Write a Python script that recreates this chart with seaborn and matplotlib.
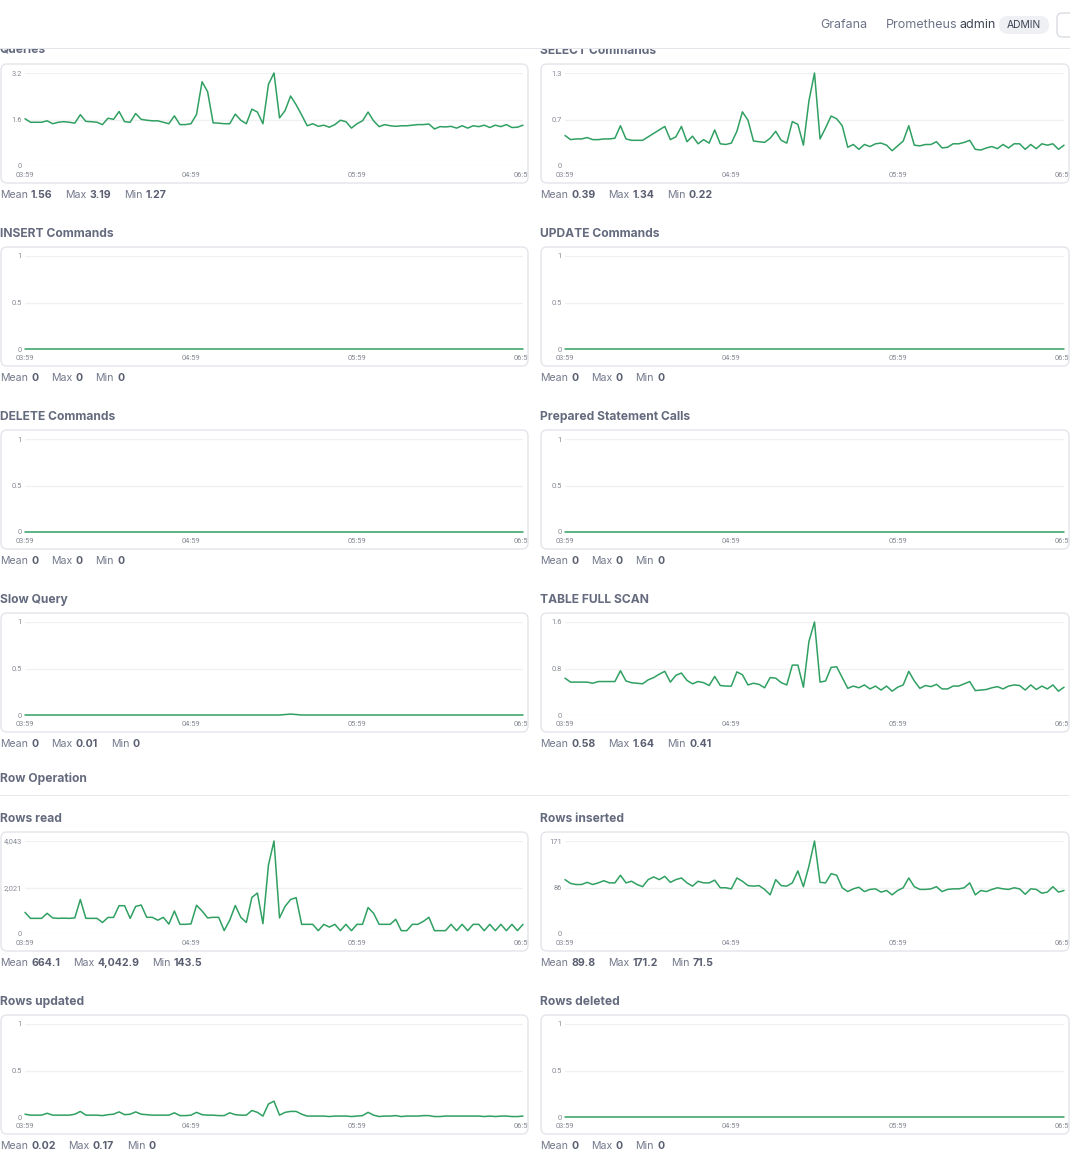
import numpy as np
import pandas as pd
import matplotlib
matplotlib.use("Agg")
import matplotlib.pyplot as plt
import matplotlib.transforms as mtransforms
from matplotlib.patches import FancyBboxPatch, Rectangle
from matplotlib import font_manager
import seaborn as sns

# ------------------------------------------------------------------ data
minutes = list(range(0, 181, 2))          # 03:59 -> 06:59, 2-minute steps
time_tick_minutes = [0, 60, 120, 180]
time_tick_labels = ["03:59", "04:59", "05:59", "06:59"]

queries = [1.62, 1.50, 1.50, 1.50, 1.55, 1.45, 1.50, 1.52, 1.50, 1.47,
           1.76, 1.53, 1.52, 1.50, 1.42, 1.64, 1.60, 1.87, 1.52, 1.50,
           1.80, 1.60, 1.57, 1.55, 1.55, 1.50, 1.45, 1.72, 1.42, 1.42,
           1.45, 1.77, 2.89, 2.55, 1.48, 1.47, 1.45, 1.45, 1.78, 1.57,
           1.45, 1.95, 1.85, 1.45, 2.80, 3.19, 1.65, 1.90, 2.40, 2.10,
           1.75, 1.38, 1.45, 1.36, 1.40, 1.33, 1.42, 1.57, 1.52, 1.30,
           1.45, 1.55, 1.85, 1.55, 1.35, 1.42, 1.38, 1.36, 1.38, 1.38,
           1.40, 1.42, 1.42, 1.44, 1.27, 1.35, 1.34, 1.36, 1.30, 1.38,
           1.30, 1.38, 1.35, 1.40, 1.32, 1.40, 1.35, 1.42, 1.32, 1.33, 1.40]

select_cmds = [0.44, 0.38, 0.39, 0.39, 0.41, 0.38, 0.38, 0.39, 0.39, 0.40,
               0.58, 0.39, 0.37, 0.37, 0.37, 0.42, 0.47, 0.52, 0.57, 0.38,
               0.42, 0.57, 0.35, 0.43, 0.32, 0.38, 0.33, 0.52, 0.32, 0.31,
               0.33, 0.50, 0.78, 0.66, 0.36, 0.35, 0.34, 0.40, 0.50, 0.37,
               0.33, 0.64, 0.60, 0.30, 0.94, 1.34, 0.39, 0.55, 0.72, 0.68,
               0.58, 0.27, 0.31, 0.24, 0.31, 0.28, 0.32, 0.33, 0.30, 0.22,
               0.29, 0.36, 0.58, 0.30, 0.29, 0.31, 0.31, 0.35, 0.26, 0.27,
               0.32, 0.32, 0.34, 0.37, 0.24, 0.23, 0.26, 0.28, 0.25, 0.31,
               0.26, 0.32, 0.32, 0.24, 0.31, 0.25, 0.32, 0.30, 0.32, 0.24, 0.30]

table_full_scan = [0.65, 0.58, 0.58, 0.58, 0.58, 0.56, 0.59, 0.59, 0.59, 0.59,
                   0.78, 0.60, 0.57, 0.56, 0.55, 0.62, 0.66, 0.72, 0.77, 0.58,
                   0.70, 0.74, 0.61, 0.55, 0.59, 0.57, 0.52, 0.68, 0.52, 0.51,
                   0.51, 0.76, 0.71, 0.53, 0.56, 0.54, 0.48, 0.66, 0.65, 0.57,
                   0.53, 0.88, 0.88, 0.49, 1.30, 1.64, 0.58, 0.60, 0.84, 0.85,
                   0.66, 0.47, 0.51, 0.48, 0.53, 0.46, 0.51, 0.44, 0.51, 0.42,
                   0.49, 0.53, 0.77, 0.60, 0.47, 0.52, 0.50, 0.54, 0.46, 0.46,
                   0.51, 0.51, 0.55, 0.59, 0.43, 0.44, 0.45, 0.48, 0.50, 0.46,
                   0.51, 0.53, 0.52, 0.44, 0.53, 0.45, 0.51, 0.46, 0.53, 0.42, 0.49]

rows_read = [940, 680, 680, 680, 900, 700, 680, 690, 680, 700,
             1500, 680, 680, 680, 500, 720, 720, 1230, 1230, 680,
             1200, 1260, 725, 725, 600, 725, 430, 1000, 420, 420,
             440, 1250, 1000, 700, 725, 725, 150, 600, 1240, 725,
             500, 1590, 1780, 450, 3000, 4043, 700, 1200, 1500, 1580,
             420, 420, 420, 145, 420, 300, 420, 145, 420, 145,
             420, 420, 1150, 900, 420, 420, 420, 640, 145, 145,
             420, 420, 550, 725, 145, 145, 145, 420, 145, 420,
             145, 420, 420, 145, 420, 145, 420, 145, 420, 145, 420]

rows_inserted = [100, 93, 91, 91, 95, 91, 94, 98, 94, 94,
                 108, 94, 97, 91, 87, 100, 105, 100, 106, 95,
                 100, 103, 94, 88, 97, 94, 94, 99, 85, 85,
                 83, 103, 97, 89, 88, 89, 82, 72, 100, 89,
                 88, 94, 116, 87, 125, 171, 95, 94, 111, 108,
                 85, 78, 83, 86, 78, 82, 83, 77, 80, 72,
                 80, 85, 103, 87, 82, 82, 83, 87, 78, 82,
                 83, 83, 85, 94, 72, 80, 78, 82, 85, 83,
                 82, 85, 83, 73, 83, 82, 75, 77, 87, 77, 80]

rows_updated = [0.03, 0.02, 0.02, 0.02, 0.04, 0.02, 0.02, 0.02, 0.02, 0.03,
                0.06, 0.02, 0.02, 0.02, 0.015, 0.025, 0.03, 0.055, 0.025, 0.03,
                0.055, 0.03, 0.025, 0.02, 0.02, 0.02, 0.02, 0.045, 0.015, 0.015,
                0.02, 0.05, 0.025, 0.02, 0.02, 0.015, 0.015, 0.045, 0.025, 0.02,
                0.02, 0.07, 0.05, 0.01, 0.14, 0.17, 0.02, 0.05, 0.06, 0.06,
                0.03, 0.01, 0.01, 0.01, 0.01, 0.005, 0.01, 0.01, 0.01, 0.005,
                0.01, 0.015, 0.05, 0.02, 0.005, 0.01, 0.01, 0.015, 0.005, 0.01,
                0.01, 0.01, 0.015, 0.015, 0.005, 0.005, 0.01, 0.01, 0.01, 0.01,
                0.01, 0.01, 0.01, 0.005, 0.01, 0.005, 0.01, 0.01, 0.005, 0.005, 0.01]

slow_query = [0] * 47 + [0.005, 0.01, 0.005] + [0] * 41
insert_cmds = [0] * 91
update_cmds = [0] * 91
delete_cmds = [0] * 91
prepared_calls = [0] * 91
rows_deleted = [0] * 91

panel_titles = ["Queries", "SELECT Commands", "INSERT Commands", "UPDATE Commands",
                "DELETE Commands", "Prepared Statement Calls", "Slow Query",
                "TABLE FULL SCAN", "Rows read", "Rows inserted", "Rows updated",
                "Rows deleted"]
panel_series = [queries, select_cmds, insert_cmds, update_cmds, delete_cmds,
                prepared_calls, slow_query, table_full_scan, rows_read,
                rows_inserted, rows_updated, rows_deleted]
panel_ytick_labels = [["0", "1.6", "3.2"], ["0", "0.7", "1.3"],
                      ["0", "0.5", "1"], ["0", "0.5", "1"],
                      ["0", "0.5", "1"], ["0", "0.5", "1"],
                      ["0", "0.5", "1"], ["0", "0.8", "1.6"],
                      ["0", "2,021", "4,043"], ["0", "86", "171"],
                      ["0", "0.5", "1"], ["0", "0.5", "1"]]
panel_stats = [("1.56", "3.19", "1.27"), ("0.39", "1.34", "0.22"),
               ("0", "0", "0"), ("0", "0", "0"),
               ("0", "0", "0"), ("0", "0", "0"),
               ("0", "0.01", "0"), ("0.58", "1.64", "0.41"),
               ("664.1", "4,042.9", "143.5"), ("89.8", "171.2", "71.5"),
               ("0.02", "0.17", "0"), ("0", "0", "0")]
stat_names = ["Mean", "Max", "Min"]
section_title = "Row Operation"
header_items = ["Grafana", "Prometheus", "admin", "ADMIN"]

# ------------------------------------------------------------------ style
sns.set_theme(style="white")
plt.rcParams["font.family"] = ["Inter", "DejaVu Sans"]

installed = {f.name for f in font_manager.fontManager.ttflist}
if "Liberation Sans Narrow" in installed:
    TICK_FAMILY, TICK_SIZE = ["Liberation Sans Narrow", "DejaVu Sans"], 6.0
else:
    TICK_FAMILY, TICK_SIZE = ["Roboto", "DejaVu Sans"], 5.4

W, H = 1070, 1154
fig = plt.figure(figsize=(W / 100, H / 100), dpi=100)
fig.patch.set_facecolor("white")
renderer = fig.canvas.get_renderer()
# pixel coordinates, y pointing down
PX = mtransforms.Affine2D().scale(1 / W, -1 / H).translate(0, 1) + fig.transFigure

GREEN = "#30a062"
TITLE_C = "#656b7e"
LABEL_C = "#74798b"
VALUE_C = "#5a5f71"
TICK_C = "#858993"
BORDER_C = "#e3e5ea"
GRID_C = "#f0f1f3"

BOX_TOPS = [64, 247, 430, 613, 832, 1015]
BOX_H = 119
COLS = [(1, 528), (541, 1069)]


def put_text(x, y, s, **kw):
    kw.setdefault("va", "center")
    return fig.text(x, y, s, transform=PX, **kw)


def text_width(t):
    return t.get_window_extent(renderer).width


for i, (title, series) in enumerate(zip(panel_titles, panel_series)):
    row, col = divmod(i, 2)
    x0, x1 = COLS[col]
    top = BOX_TOPS[row]
    bot = top + BOX_H

    # panel frame
    box = FancyBboxPatch((x0, top), x1 - x0, BOX_H,
                         boxstyle="round,pad=0,rounding_size=6",
                         transform=PX, facecolor="white", edgecolor=BORDER_C,
                         linewidth=1.0, zorder=0.5)
    fig.patches.append(box)

    # title
    put_text(x0 - 1, top - 13, title, fontsize=8.7, fontweight="bold",
             color=TITLE_C, zorder=3)

    # plot area
    px0, px1 = x0 + 24, x1 - 5
    py0, py1 = top + 9, bot - 17
    ax = fig.add_axes([px0 / W, 1 - py1 / H, (px1 - px0) / W, (py1 - py0) / H])
    ax.set_zorder(2)
    ax.set_facecolor("none")
    df = pd.DataFrame({"minute": minutes, "value": series})
    sns.lineplot(data=df, x="minute", y="value", ax=ax, color=GREEN,
                 linewidth=1.1)
    for ln in ax.lines:
        ln.set_clip_on(False)
        ln.set_solid_joinstyle("round")
    ymax = max(max(series), 1)
    ax.set_xlim(0, 180)
    ax.set_ylim(0, ymax)
    ax.set_xlabel("")
    ax.set_ylabel("")
    for sp in ax.spines.values():
        sp.set_visible(False)
    ax.set_yticks([0, ymax / 2, ymax], panel_ytick_labels[i])
    ax.set_xticks(time_tick_minutes, time_tick_labels)
    ax.yaxis.grid(True, color=GRID_C, linewidth=1)
    ax.xaxis.grid(False)
    ax.set_axisbelow(True)
    ax.tick_params(axis="both", length=0, labelsize=TICK_SIZE, labelcolor=TICK_C)
    ax.tick_params(axis="y", pad=2.2)
    ax.tick_params(axis="x", pad=4.0)
    for lab in ax.get_xticklabels() + ax.get_yticklabels():
        lab.set_fontfamily(TICK_FAMILY)
    clip = mtransforms.TransformedBbox(
        mtransforms.Bbox.from_extents(x0 / W, 1 - bot / H, x1 / W, 1 - top / H),
        fig.transFigure)
    for lab in ax.get_xticklabels():
        lab.set_clip_on(True)
        lab.set_clip_box(clip)

    # stats line
    sx = x0 - 1
    sy = bot + 12
    for name, val in zip(stat_names, panel_stats[i]):
        t = put_text(sx, sy, name, fontsize=7.6, color=LABEL_C)
        sx += text_width(t) + 3
        t = put_text(sx, sy, val, fontsize=7.6, fontweight="bold", color=VALUE_C)
        sx += text_width(t) + 13

# section header
put_text(0, 779, section_title, fontsize=8.7, fontweight="bold", color=TITLE_C)
fig.add_artist(Rectangle((0, 794.5), W, 1.5, transform=PX, facecolor="#e8e9ed",
                         edgecolor="none", zorder=2))

# top navigation bar (covers the first row titles)
fig.add_artist(Rectangle((0, 0), W, 48, transform=PX, facecolor="white",
                         edgecolor="none", zorder=10))
fig.add_artist(Rectangle((0, 48), W, 1, transform=PX, facecolor="#e3e5ea",
                         edgecolor="none", zorder=10))
put_text(820, 24.5, header_items[0], fontsize=9.0, color="#6e7387", zorder=11)
put_text(886, 24.5, header_items[1], fontsize=9.0, color="#6e7387", zorder=11)
put_text(960, 24.5, header_items[2], fontsize=9.0, color="#3f4454", zorder=11)
pill = FancyBboxPatch((999, 16), 50, 18, boxstyle="round,pad=0,rounding_size=9",
                      transform=PX, facecolor="#eef0f4", edgecolor="none",
                      zorder=11)
fig.add_artist(pill)
put_text(1024, 25, header_items[3], fontsize=7.4, color="#3f4454",
         ha="center", zorder=12)
btn = FancyBboxPatch((1057, 13), 30, 24, boxstyle="round,pad=0,rounding_size=5",
                     transform=PX, facecolor="white", edgecolor="#d9dce2",
                     linewidth=1, zorder=11)
fig.add_artist(btn)

fig.savefig("out.png", dpi=100, facecolor="white")
